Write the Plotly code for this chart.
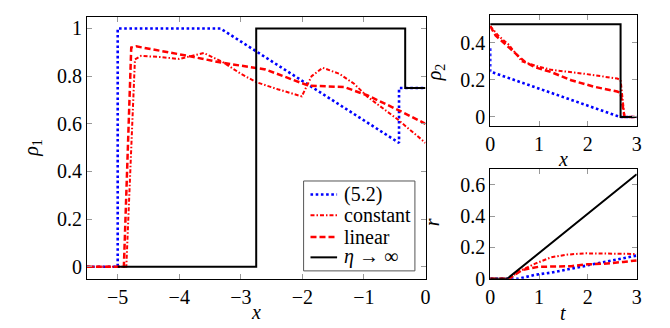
import plotly.graph_objects as go

# ---- data: rho_1 (main panel) ----
x52_rho1 = [-5.5, -5.0, -5.0, -3.33, -0.43, -0.43, 0.0]
y52_rho1 = [0.0, 0.0, 1.0, 1.0, 0.52, 0.75, 0.75]

xcon_rho1 = [-5.5, -4.86, -4.72, -4.62, -4.3, -4.0, -3.8, -3.6, -3.3, -3.0, -2.75, -2.4, -2.01, -1.85, -1.67, -1.4, -1.16, -0.94, -0.46, 0.0]
ycon_rho1 = [0.0, 0.0, 0.87, 0.885, 0.88, 0.872, 0.885, 0.897, 0.86, 0.81, 0.775, 0.745, 0.715, 0.80, 0.835, 0.81, 0.768, 0.713, 0.62, 0.52]

xlin_rho1 = [-5.5, -4.9, -4.78, -4.7, -3.94, -3.3, -2.6, -2.01, -1.9, -1.32, -0.95, -0.46, 0.0]
ylin_rho1 = [0.0, 0.0, 0.92, 0.925, 0.889, 0.856, 0.828, 0.772, 0.76, 0.754, 0.72, 0.66, 0.60]

xinf_rho1 = [-5.0, -2.75, -2.75, -0.33, -0.33, 0.0]
yinf_rho1 = [0.0, 0.0, 1.0, 1.0, 0.75, 0.75]

# ---- data: rho_2 (top right) ----
x52_rho2 = [0.0, 0.0, 2.66, 3.0]
y52_rho2 = [0.37, 0.245, 0.0, 0.0]

xcon_rho2 = [0.0, 0.18, 0.38, 0.65, 0.92, 1.25, 1.93, 2.6, 2.67, 2.75, 3.0]
ycon_rho2 = [0.49, 0.435, 0.39, 0.30, 0.277, 0.254, 0.233, 0.207, 0.20, 0.0, 0.0]

xlin_rho2 = [0.0, 0.11, 0.32, 0.52, 0.72, 0.92, 1.25, 1.66, 2.13, 2.6, 2.67, 2.75, 3.0]
ylin_rho2 = [0.49, 0.44, 0.39, 0.34, 0.295, 0.268, 0.242, 0.198, 0.163, 0.137, 0.13, 0.0, 0.0]

xinf_rho2 = [0.0, 2.67, 2.67, 3.0]
yinf_rho2 = [0.5, 0.5, 0.0, 0.0]

# ---- data: r (bottom right) ----
t52_r = [0.0, 0.58, 0.92, 1.25, 1.59, 1.93, 2.26, 2.6, 2.87, 3.0]
r52_r = [0.0, 0.0, 0.025, 0.039, 0.06, 0.08, 0.10, 0.12, 0.14, 0.148]

tcon_r = [0.0, 0.38, 0.58, 0.92, 1.25, 1.59, 1.93, 2.26, 2.6, 3.0]
rcon_r = [0.0, 0.0, 0.045, 0.096, 0.137, 0.154, 0.162, 0.162, 0.158, 0.158]

tlin_r = [0.0, 0.4, 0.45, 0.65, 0.99, 1.39, 1.66, 1.99, 2.33, 2.73, 3.0]
rlin_r = [0.0, 0.0, 0.014, 0.055, 0.076, 0.076, 0.08, 0.092, 0.096, 0.107, 0.117]

tinf_r = [0.0, 0.35, 3.0]
rinf_r = [0.0, 0.0, 0.667]

names = ["(5.2)", "constant", "linear", "<i>η</i> → ∞"]
colors = ["#0000ff", "#ff0000", "#ff0000", "#000000"]
dashes = ["2.6px,2.6px", "4px,2px,1.5px,2px", "6px,3px", "solid"]
widths = [2.6, 2.0, 2.5, 2.0]

FONT = "Liberation Serif"
FS = 20
W, H = 670, 328

fig = go.Figure()

panels = [
    ("x", "y", [(x52_rho1, y52_rho1), (xcon_rho1, ycon_rho1), (xlin_rho1, ylin_rho1), (xinf_rho1, yinf_rho1)]),
    ("x2", "y2", [(x52_rho2, y52_rho2), (xcon_rho2, ycon_rho2), (xlin_rho2, ylin_rho2), (xinf_rho2, yinf_rho2)]),
    ("x3", "y3", [(t52_r, r52_r), (tcon_r, rcon_r), (tlin_r, rlin_r), (tinf_r, rinf_r)]),
]
for xa, ya, series in panels:
    for i, (xs, ys) in enumerate(series):
        fig.add_trace(go.Scatter(
            x=xs, y=ys, mode="lines", name=names[i], xaxis=xa, yaxis=ya,
            showlegend=False,
            line=dict(color=colors[i], dash=dashes[i], width=widths[i]),
        ))

ax_common = dict(showgrid=False, zeroline=False, showline=True, linecolor="black",
                 linewidth=1, mirror="ticks", ticks="inside", ticklen=5,
                 tickcolor="#999999", tickwidth=1,
                 tickfont=dict(family=FONT, size=FS, color="black"))

def px(x):
    return x / W

def py(y):
    return 1 - y / H

fig.update_layout(
    width=W, height=H,
    margin=dict(l=0, r=0, t=0, b=0),
    paper_bgcolor="white", plot_bgcolor="white",
    font=dict(family=FONT, size=FS, color="black"),
    xaxis=dict(domain=[0.112, 0.625], range=[-5.5, 0], tickvals=[-5, -4, -3, -2, -1, 0],
               anchor="y", **ax_common),
    yaxis=dict(domain=[0.146, 0.973], range=[-0.05, 1.05], tickvals=[0, 0.2, 0.4, 0.6, 0.8, 1],
               ticktext=["0", "0.2", "0.4", "0.6", "0.8", "1"], anchor="x", **ax_common),
    xaxis2=dict(domain=[0.723, 0.945], range=[0, 3], tickvals=[0, 1, 2, 3],
                anchor="y2", **ax_common),
    yaxis2=dict(domain=[0.627, 0.978], range=[-0.05, 0.55], tickvals=[0, 0.2, 0.4],
                ticktext=["0", "0.2", "0.4"], anchor="x2", **ax_common),
    xaxis3=dict(domain=[0.723, 0.945], range=[0, 3], tickvals=[0, 1, 2, 3],
                anchor="y3", **ax_common),
    yaxis3=dict(domain=[0.146, 0.492], range=[0, 0.7], tickvals=[0, 0.2, 0.4, 0.6],
                ticktext=["0", "0.2", "0.4", "0.6"], anchor="x3", **ax_common),
)

# legend box (drawn in paper space, like the boxed TikZ legend)
shapes = [dict(type="rect", xref="paper", yref="paper", x0=px(295), x1=px(408),
               y0=py(272), y1=py(179), line=dict(color="#555555", width=1),
               fillcolor="white", layer="above")]
legend_rows = [193, 214.5, 237, 258]
anns = []
for i, yrow in enumerate(legend_rows):
    shapes.append(dict(type="line", xref="paper", yref="paper", x0=px(302), x1=px(329),
                       y0=py(yrow), y1=py(yrow), layer="above",
                       line=dict(color=colors[i], width=widths[i], dash=dashes[i])))
    anns.append(dict(text=names[i], x=px(334), y=py(yrow - 0.5), xref="paper", yref="paper",
                     showarrow=False, xanchor="left", yanchor="middle",
                     font=dict(family=FONT, size=FS, color="black")))

# axis titles at pixel positions
titles = [
    ("<i>ρ</i><sub>1</sub>", 19, 145, -90),
    ("<i>x</i>", 247, 315, 0),
    ("<i>ρ</i><sub>2</sub>", 429, 67, -90),
    ("<i>x</i>", 558, 156, 0),
    ("<i>r</i>", 425, 222, -90),
    ("<i>t</i>", 558, 316, 0),
]
for text, xx, yy, rot in titles:
    anns.append(dict(text=text, x=px(xx), y=py(yy), xref="paper", yref="paper",
                     showarrow=False, textangle=rot, xanchor="center", yanchor="middle",
                     font=dict(family=FONT, size=FS, color="black")))
fig.update_layout(shapes=shapes, annotations=anns)

fig.write_html("out.html")
